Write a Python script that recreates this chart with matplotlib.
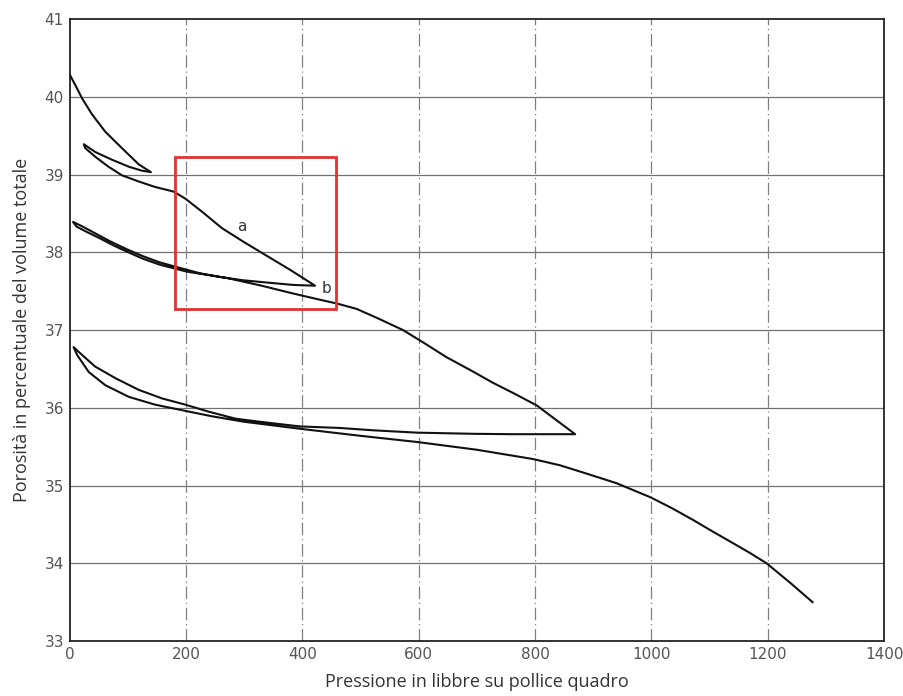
import matplotlib
matplotlib.use('Agg')
import matplotlib.pyplot as plt
from matplotlib.patches import Rectangle

# pressure (psi) and porosity (%) read along the single hysteresis path
# first compression and first unloading loop
p_1 = [0, 10, 21.5, 39, 61.5, 90, 119, 140,
       124, 102, 73, 44, 24.5]
n_1 = [40.29, 40.15, 39.98, 39.77, 39.55, 39.34, 39.13, 39.03,
       39.05, 39.10, 39.19, 39.29, 39.39]
# reloading a -> b and unloading back to 0
p_2 = [27, 44, 67, 90, 119, 147, 179, 199, 228, 262, 300, 340, 380, 422,
       400, 384, 340, 298, 260, 224, 184, 155, 126, 98, 70, 40, 20, 6]
n_2 = [39.34, 39.23, 39.10, 38.99, 38.91, 38.84, 38.78, 38.69, 38.52, 38.31, 38.13, 37.95, 37.77, 37.57,
       37.575, 37.58, 37.61, 37.64, 37.68, 37.73, 37.81, 37.87, 37.95, 38.04, 38.14, 38.26, 38.34, 38.39]
# reloading up to ~870 psi and unloading
p_3 = [12, 30, 52, 75, 98, 125, 155, 202, 270, 330, 384, 430, 460, 494, 530, 573, 610, 648, 690, 728, 765, 803, 869,
       762, 694, 597, 522, 465, 396, 327, 285, 239, 199, 159, 119, 79, 44, 21.5, 7]
n_3 = [38.33, 38.26, 38.18, 38.09, 38.01, 37.92, 37.84, 37.75, 37.67, 37.57, 37.47, 37.39, 37.34, 37.27, 37.15, 37.00,
       36.83, 36.65, 36.48, 36.32, 36.18, 36.03, 35.66,
       35.66, 35.665, 35.68, 35.71, 35.74, 35.76, 35.82, 35.86, 35.95, 36.04, 36.12, 36.23, 36.38, 36.53, 36.68, 36.78]
# final compression
p_4 = [13, 33, 61.5, 102, 147, 199, 245, 300, 396, 499, 597, 700, 797, 843, 890, 940, 998, 1035, 1071, 1105,
       1140, 1170, 1198, 1240, 1277]
n_4 = [36.68, 36.46, 36.29, 36.14, 36.04, 35.96, 35.89, 35.82, 35.73, 35.64, 35.56, 35.46, 35.34, 35.26, 35.15,
       35.03, 34.85, 34.71, 34.56, 34.41, 34.26, 34.13, 34.00, 33.74, 33.50]

pressione = p_1 + p_2 + p_3 + p_4
porosita = n_1 + n_2 + n_3 + n_4

x_ticks = [0, 200, 400, 600, 800, 1000, 1200, 1400]
x_labels = ['0', '200', '400', '600', '800', '1000', '1200', '1400']
y_ticks = [33, 34, 35, 36, 37, 38, 39, 40, 41]

# zoomed area a-b and the two labels
box_x = [181, 458]
box_y = [37.27, 39.22]
etichette = ['a', 'b']
etich_x = [296, 442]
etich_y = [38.33, 37.54]

fig = plt.figure(figsize=[9.04, 6.96], dpi=100)
ax = fig.add_axes([0.0769, 0.079, 0.9011, 0.8937])

for yy in y_ticks[1:-1]:
    ax.axhline(yy, color='#707070', linewidth=0.9, zorder=1)
for xx in x_ticks[1:-1]:
    ax.axvline(xx, color='#808080', linewidth=0.9, linestyle=(0, (10, 3, 1, 3)), zorder=1)

ax.plot(pressione, porosita, '-', color='#111111', linewidth=1.5, zorder=3)

ax.add_patch(Rectangle((box_x[0], box_y[0]), box_x[1]-box_x[0], box_y[1]-box_y[0],
                       fill=False, edgecolor='#e03232', linewidth=2.0, zorder=4))
for ii in range(len(etichette)):
    ax.text(etich_x[ii], etich_y[ii], etichette[ii], fontsize=11, color='#333333',
            ha='center', va='center', zorder=5)

ax.set_xlim(0, 1400)
ax.set_ylim(33, 41)
ax.set_xticks(x_ticks)
ax.set_xticklabels(x_labels)
ax.set_yticks(y_ticks)
ax.tick_params(length=0, labelsize=11, labelcolor='#555555', pad=4)
for s in ax.spines.values():
    s.set_color('#222222')
    s.set_linewidth(1.3)

ax.set_xlabel('Pressione in libbre su pollice quadro', fontsize=13, color='#333333',
              family='Open Sans', labelpad=8)
ax.set_ylabel('Porosità in percentuale del volume totale', fontsize=13, color='#333333',
              family='Open Sans', labelpad=10)

fig.savefig('out.png', dpi=100)
